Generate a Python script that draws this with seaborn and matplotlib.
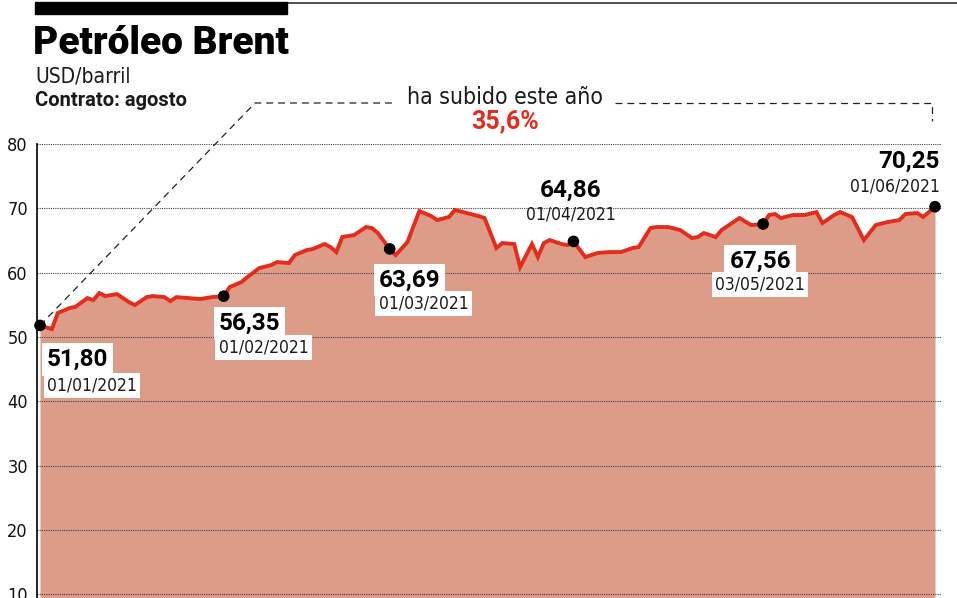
import matplotlib
matplotlib.use("Agg")
import matplotlib.pyplot as plt
import matplotlib.patches as mpatches
import seaborn as sns
import pandas as pd
import numpy as np

# ---------------- data ----------------
dates = [
    "2021-01-01", "2021-01-03", "2021-01-04", "2021-01-06", "2021-01-07", "2021-01-09",
    "2021-01-10", "2021-01-11", "2021-01-12", "2021-01-14", "2021-01-16", "2021-01-17",
    "2021-01-19", "2021-01-20", "2021-01-22", "2021-01-23", "2021-01-24", "2021-01-26",
    "2021-01-28", "2021-01-30", "2021-02-01", "2021-02-02", "2021-02-04", "2021-02-05",
    "2021-02-07", "2021-02-09", "2021-02-10", "2021-02-12", "2021-02-13", "2021-02-15",
    "2021-02-16", "2021-02-18", "2021-02-19", "2021-02-20", "2021-02-21", "2021-02-23",
    "2021-02-25", "2021-02-26", "2021-02-27", "2021-03-01", "2021-03-02", "2021-03-04",
    "2021-03-06", "2021-03-08", "2021-03-09", "2021-03-11", "2021-03-12", "2021-03-14",
    "2021-03-16", "2021-03-17", "2021-03-19", "2021-03-20", "2021-03-22", "2021-03-23",
    "2021-03-25", "2021-03-26", "2021-03-27", "2021-03-28", "2021-03-30", "2021-03-31",
    "2021-04-01", "2021-04-03", "2021-04-05", "2021-04-07", "2021-04-09", "2021-04-11",
    "2021-04-12", "2021-04-14", "2021-04-15", "2021-04-17", "2021-04-19", "2021-04-21",
    "2021-04-22", "2021-04-23", "2021-04-25", "2021-04-26", "2021-04-29", "2021-05-01",
    "2021-05-03", "2021-05-04", "2021-05-05", "2021-05-06", "2021-05-08", "2021-05-10",
    "2021-05-12", "2021-05-13", "2021-05-15", "2021-05-16", "2021-05-18", "2021-05-20",
    "2021-05-22", "2021-05-24", "2021-05-26", "2021-05-27", "2021-05-29", "2021-05-30",
    "2021-06-01",
]
prices = [
    51.80, 51.23, 53.72, 54.50, 54.70, 56.05,
    55.74, 56.83, 56.36, 56.67, 55.43, 54.96,
    56.20, 56.36, 56.20, 55.58, 56.20, 56.05,
    55.90, 56.20, 56.35, 57.76, 58.54, 59.32,
    60.72, 61.18, 61.65, 61.49, 62.74, 63.51,
    63.67, 64.45, 63.98, 63.20, 65.54, 65.85,
    67.09, 66.94, 66.16, 63.69, 62.74, 64.76,
    69.58, 68.80, 68.18, 68.65, 69.74, 69.27,
    68.80, 68.49, 63.83, 64.60, 64.45, 60.87,
    64.45, 62.43, 64.60, 65.07, 64.45, 64.29,
    64.86, 62.43, 63.05, 63.20, 63.20, 63.83,
    63.98, 66.94, 67.09, 67.09, 66.63, 65.38,
    65.54, 66.16, 65.54, 66.63, 68.49, 67.40,
    67.56, 68.96, 69.11, 68.49, 68.96, 68.96,
    69.42, 67.71, 68.96, 69.42, 68.65, 65.07,
    67.40, 67.87, 68.18, 69.11, 69.27, 68.65,
    70.25,
]
highlight_dates = ["2021-01-01", "2021-02-01", "2021-03-01", "2021-04-01", "2021-05-03", "2021-06-01"]
highlight_labels = ["51,80", "56,35", "63,69", "64,86", "67,56", "70,25"]
highlight_dlabels = ["01/01/2021", "01/02/2021", "01/03/2021", "01/04/2021", "03/05/2021", "01/06/2021"]
y_ticks = [10, 20, 30, 40, 50, 60, 70, 80]

title = "Petróleo Brent"
subtitle = "USD/barril"
contract = "Contrato: agosto"
change_text = "ha subido este año"
change_value = "35,6%"

df = pd.DataFrame({"fecha": pd.to_datetime(dates), "precio": prices})
hl = df[df["fecha"].isin(pd.to_datetime(highlight_dates))].reset_index(drop=True)

# ---------------- style ----------------
RED = "#e52b1c"
FILL = "#dc9c88"
sns.set_theme(style="white")
plt.rcParams["font.family"] = ["Roboto", "DejaVu Sans"]
COND = dict(family="DejaVu Sans", fontstretch="condensed")

W, H = 957, 598
fig = plt.figure(figsize=(W / 100, H / 100), dpi=100)
fig.patch.set_facecolor("white")

ax_l, ax_r, ax_t = 37, 942, 144
ax = fig.add_axes([ax_l / W, 0, (ax_r - ax_l) / W, (H - ax_t) / H])
ax.set_facecolor("white")

start = df["fecha"].iloc[0]
end = df["fecha"].iloc[-1]
span_days = (end - start).days
px_per_day = (935 - 40) / span_days
ax.set_xlim(start - pd.Timedelta(days=(40 - ax_l) / px_per_day),
            start + pd.Timedelta(days=(ax_r - 40) / px_per_day))
px_per_unit = (337 - 144) / 30.0
ax.set_ylim(80 - (H - 144) / px_per_unit, 80)

ax.fill_between(df["fecha"], df["precio"], ax.get_ylim()[0] - 5, color=FILL, lw=0, zorder=1)
sns.lineplot(data=df, x="fecha", y="precio", ax=ax, color=RED, lw=2.8, zorder=3,
             solid_joinstyle="miter")
sns.scatterplot(data=hl, x="fecha", y="precio", ax=ax, color="black", s=70, zorder=5,
                edgecolor="none", clip_on=False)

ax.set_axisbelow("line")
ax.yaxis.grid(True, linestyle=(0, (1, 1)), color="#444444", lw=0.8)
ax.xaxis.grid(False)
ax.set_yticks(y_ticks)
ax.set_yticklabels([str(t) for t in y_ticks], fontsize=13, color="#111111", **COND)
ax.set_xticks([])
ax.set_xlabel("")
ax.set_ylabel("")
for s in ["top", "right", "bottom"]:
    ax.spines[s].set_visible(False)
ax.spines["left"].set_color("#111111")
ax.spines["left"].set_linewidth(1.3)
ax.tick_params(axis="y", direction="inout", length=7, width=1.2, color="#111111", pad=3)

# ---------------- labels ----------------
# offsets in pixels relative to point: (dx, dy_value, dy_date, ha)
offsets = [
    (7, -34, -60, "left"),
    (-5, -27, -51, "left"),
    (-11, -31, -55, "left"),
    (-3, 51, 27, "center"),
    (-3, -37, -60, "center"),
    (5, 45, 20, "right"),
]
boxed = [True, True, True, False, True, False]
for i, row in hl.iterrows():
    dx, dyv, dyd, ha = offsets[i]
    bb = dict(boxstyle="square,pad=0.2", fc="white", ec="none") if boxed[i] else None
    ax.annotate(highlight_dlabels[i], xy=(row["fecha"], row["precio"]), xytext=(dx, dyd),
                textcoords="offset pixels", ha=ha, va="center", fontsize=12.5,
                color="#1a1a1a", bbox=bb, zorder=6, annotation_clip=False, **COND)
    ax.annotate(highlight_labels[i], xy=(row["fecha"], row["precio"]), xytext=(dx, dyv),
                textcoords="offset pixels", ha=ha, va="center", fontsize=17.5,
                fontweight="bold", color="black", bbox=bb, zorder=7, annotation_clip=False)

# ---------------- change annotation ----------------
def px2date(px):
    return start + pd.Timedelta(days=(px - 40) / px_per_day)

def px2val(py):
    return 80 - (py - 144) / px_per_unit

dash = dict(color="#222222", lw=0.9, linestyle=(0, (5.5, 4)), clip_on=False, zorder=4)
ax.plot([df["fecha"].iloc[0], px2date(255), px2date(395)],
        [df["precio"].iloc[0], px2val(103), px2val(103)], **dash)
ax.plot([px2date(615), px2date(932), px2date(932)],
        [px2val(103), px2val(103), px2val(121)], **dash)
fig.text(505 / W, 1 - 97 / H, change_text, ha="center", va="center", fontsize=16.5,
         color="#1a1a1a", **COND)
fig.text(505 / W, 1 - 121 / H, change_value, ha="center", va="center", fontsize=18,
         fontweight="bold", color=RED)

# ---------------- header ----------------
fig.patches.append(mpatches.Rectangle((35 / W, 1 - 14 / H), (287 - 35) / W, 12 / H,
                                      transform=fig.transFigure, color="black", zorder=10))
fig.lines.append(plt.Line2D([287 / W, 1], [1 - 3 / H, 1 - 3 / H], transform=fig.transFigure,
                            color="#333333", lw=1.2))
fig.text(33 / W, 1 - 44 / H, title, ha="left", va="center", fontsize=28, fontweight="black",
         family=["Roboto", "Lato", "DejaVu Sans"], color="black")
fig.text(35 / W, 1 - 76 / H, subtitle, ha="left", va="center", fontsize=15, color="#1a1a1a", **COND)
fig.text(35 / W, 1 - 101 / H, contract, ha="left", va="center", fontsize=14.5,
         fontweight="bold", color="#1a1a1a")

fig.savefig("out.png", dpi=100)
